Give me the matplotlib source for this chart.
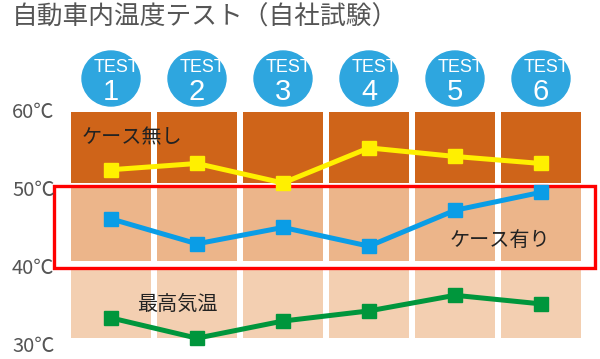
import matplotlib
matplotlib.use('Agg')
from matplotlib import pyplot as plt
from matplotlib.patches import Rectangle, Ellipse

plt.rcParams['font.family'] = ['Noto Sans CJK JP', 'DejaVu Sans']

# データ
pruebas = ['1', '2', '3', '4', '5', '6']
sin_funda = [52.6, 53.4, 50.9, 55.4, 54.3, 53.4]   # ケース無し
con_funda = [46.3, 43.1, 45.2, 42.8, 47.4, 49.7]   # ケース有り
max_temp = [33.6, 31.0, 33.2, 34.5, 36.5, 35.4]    # 最高気温
ticks_y = [30, 40, 50, 60]
filas = [(31.0, 40.0), (40.9, 50.25), (50.9, 60.0)]
colores_fila = ['#F3CFB1', '#ECB58A', '#CF6419']

titulo = '自動車内温度テスト（自社試験）'

fig = plt.figure(figsize=(6, 3.59), dpi=100)
ax = fig.add_axes([0, 0, 1, 1])
# 1 columna = 86 px, 10 grados = 78 px
ax.set_xlim(-111 / 86, (600 - 111) / 86)
ax.set_ylim(30 - 13 / 7.8, 30 + 346 / 7.8)
ax.axis('off')

x = list(range(len(pruebas)))

# celdas
for (abajo, arriba), col in zip(filas, colores_fila):
    ax.bar(x, [arriba - abajo] * len(x), bottom=abajo, width=80 / 86,
           color=col, zorder=1)

# recuadro rojo
ax.add_patch(Rectangle((-57 / 86, 40.0), 541 / 86, 10.5, fill=False,
                       edgecolor='#FF0000', linewidth=2.4, zorder=2))

# lineas
ax.plot(x, sin_funda, color='#FFF000', lw=3.6, marker='s', ms=10, zorder=3)
ax.plot(x, con_funda, color='#0A9DE6', lw=3.6, marker='s', ms=10, zorder=3)
ax.plot(x, max_temp, color='#00963C', lw=3.6, marker='s', ms=10, zorder=3)

# circulos TEST
yc = 30 + (346 - 78.5) / 7.8
for xi, p in zip(x, pruebas):
    circ = Ellipse((xi, yc), 58 / 86, 55 / 7.8, color='#2EA6DF', zorder=4)
    ax.add_patch(circ)
    t = ax.text(xi + 5 / 86, yc + 11 / 7.8, 'TEST', color='white', fontsize=13,
                family='Liberation Sans', ha='center', va='center', zorder=5)
    t.set_clip_path(circ)
    ax.text(xi, yc - 13 / 7.8, p, color='white', fontsize=21,
            family='Liberation Sans', ha='center', va='center', zorder=5)

# etiquetas del eje y
for v in ticks_y:
    ax.text(-99 / 86, v, '%d℃' % v, color='#555555', fontsize=14.5,
            ha='left', va='center')

ax.text(-29 / 86, 30 + (346 - 138) / 7.8, 'ケース無し', fontsize=14.5,
        color='#222222', ha='left', va='center', zorder=5)
ax.text(339 / 86, 30 + (346 - 240) / 7.8, 'ケース有り', fontsize=14.5,
        color='#222222', ha='left', va='center', zorder=5)
ax.text(26 / 86, 30 + (346 - 304) / 7.8, '最高気温', fontsize=14.5,
        color='#222222', ha='left', va='center', zorder=5)

fig.text(12 / 600, 1 - 18 / 359, titulo, fontsize=18.5, color='#555555',
         ha='left', va='center')

fig.savefig('out.png', dpi=100)
